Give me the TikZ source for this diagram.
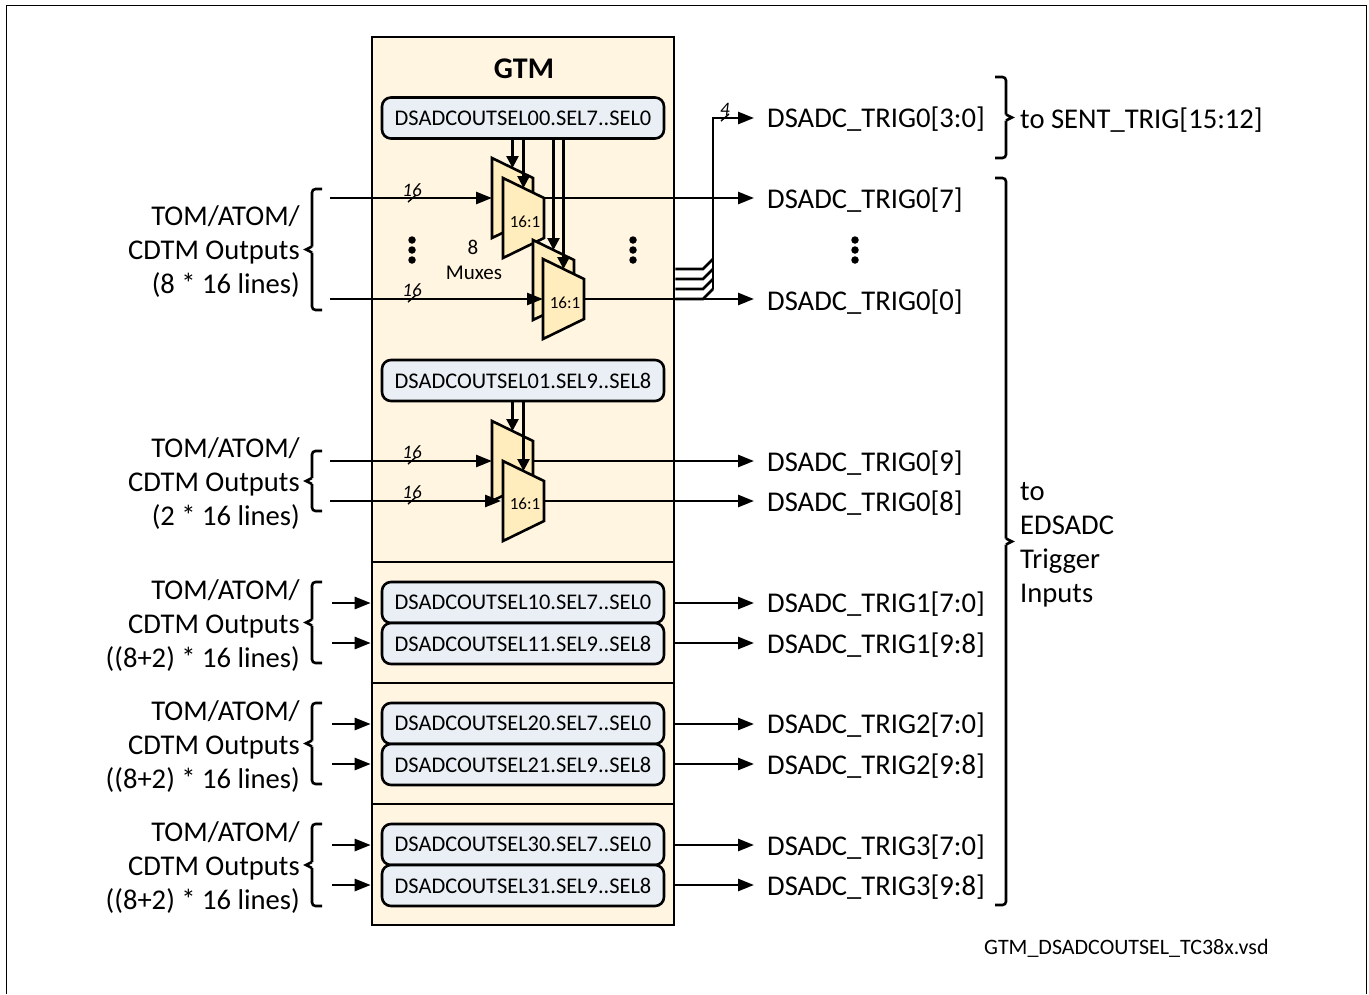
\documentclass[tikz,border=0pt]{standalone}
\usepackage{fontspec}
\setmainfont{Carlito}
\usepackage{xcolor}
\usetikzlibrary{calc,arrows.meta,positioning}
\definecolor{gtmbg}{HTML}{FFF5E1}
\definecolor{muxbg}{HTML}{FFEDBE}
\definecolor{selbg}{HTML}{E9EFF4}
\tikzset{
  ar/.style={-{Triangle[length=16pt,width=12pt]},line width=2.6pt},
  arsel/.style={-{Triangle[length=12pt,width=12pt]},line width=2.6pt},
  ln/.style={line width=2.6pt},
  selbox/.style={draw,line width=2.6pt,rounded corners=9pt,fill=selbg,minimum width=282pt,minimum height=41pt,inner sep=0pt,font=\fontsize{22.4}{26}\selectfont},
  muxbox/.style={draw,line width=2.6pt,fill=muxbg,line join=miter},
  big/.style={font=\fontsize{28.6}{34}\selectfont,inner sep=0pt},
  trig/.style={font=\fontsize{28.6}{34}\selectfont,anchor=west,inner ysep=0pt,inner xsep=0pt,text depth=0pt},
  buslbl/.style={font=\fontsize{19}{22}\itshape,inner sep=0pt},
  small/.style={font=\fontsize{17}{20}\selectfont,inner sep=0pt}
}
% mux: name, x of upper left corner, y of upper left corner
\newcommand{\muxshape}[3]{
  \draw[muxbox] (#2,#3)--(#2+41,#3+20)--(#2+41,#3+60)--(#2,#3+80)--cycle;
  \coordinate (#1-sel) at (#2+20.5,#3+10);
  \coordinate (#1-in) at (#2,#3+40);
  \coordinate (#1-out) at (#2+41,#3+40);
}
% brace: x of stem, y top, y bottom, x of open ends, x of tip
\newcommand{\bracket}[5]{
  \draw[ln,rounded corners=3.5pt] (#4,#2)--(#1,#2)--(#1,{(#2+#3)/2-3});
  \draw[ln,rounded corners=3.5pt] (#1,{(#2+#3)/2+3})--(#1,#3)--(#4,#3);
  \draw[ln] (#1,{(#2+#3)/2-3})--(#5,{(#2+#3)/2})--(#1,{(#2+#3)/2+3});
}
\begin{document}
\begin{tikzpicture}[x=1pt,y=-1pt]
\useasboundingbox (0,0) rectangle (1369,994);
\draw[line width=1pt] (6,994)--(6,5)--(1366,5)--(1366,994);
\node[draw,line width=2.6pt,fill=gtmbg,minimum width=302pt,minimum height=888pt,inner sep=0pt] (gtm) at (523,481) {};
\node[font=\fontsize{30}{34}\bfseries,inner sep=0pt] (gtmlbl) at (524,69) {GTM};
\foreach \y in {562,683,804}
  \draw[ln] (gtm.west |- 0,\y) -- (gtm.east |- 0,\y);
% select registers
\foreach \n/\y/\t in {00/118/SEL7..SEL0,01/380.5/SEL9..SEL8,10/602.5/SEL7..SEL0,11/643.5/SEL9..SEL8,20/723.5/SEL7..SEL0,21/764.5/SEL9..SEL8,30/844.5/SEL7..SEL0,31/885.5/SEL9..SEL8}
  \node[selbox] (sel\n) at (523,\y) {DSADCOUTSEL\n.\t};
% output names
\foreach \n/\y/\t in {a/117.5/0[3:0],b/198.5/0[7],c/300.5/0[0],d/461.5/0[9],e/501.5/0[8],f/602.5/1[7:0],g/643.5/1[9:8],h/723.5/2[7:0],i/764.5/2[9:8],j/845.5/3[7:0],k/885.5/3[9:8]}
  \node[trig] (trig\n) at (767,\y) {DSADC\_TRIG\t};
\foreach \n/\y in {a/118,b/198,c/299,d/461,e/501,f/603,g/643,h/724,i/764,j/845,k/885}
  \coordinate (tip\n) at (754,\y);
% first group of muxes
\coordinate (ina) at (330,198); \coordinate (inb) at (330,299);
\muxshape{muxa}{492}{158}
\draw[ar] (muxa-out) -- (tipb);
\draw[ar] (ina) -- (muxa-in);
\muxshape{muxb}{503}{178}
\muxshape{muxc}{533}{240}
\muxshape{muxd}{543}{259}
\draw[ar] (inb) -- (muxd-in);
\draw[ar] (muxd-out) -- (tipc);
\foreach \m in {muxa,muxb,muxc,muxd}
  \draw[arsel] (sel00.south -| \m-sel) -- (\m-sel);
% second group of muxes
\coordinate (inc) at (330,461); \coordinate (ind) at (330,501);
\muxshape{muxe}{492}{421}
\draw[ar] (muxe-out) -- (tipd);
\draw[ar] (inc) -- (muxe-in);
\muxshape{muxf}{503}{461}
\draw[ar] (ind) -- ($(muxf-in)+(-2,0)$);
\draw[ar] (muxf-out) -- (tipe);
\foreach \m in {muxe,muxf}
  \draw[arsel] (sel01.south -| \m-sel) -- (\m-sel);
\node[small] (muxlbla) at (525,222) {16:1};
\node[small] (muxlblb) at (565,303) {16:1};
\node[small] (muxlblc) at (525,504) {16:1};
\node[small,font=\fontsize{21}{24}\selectfont] (eight) at (473,247) {8};
\node[small,font=\fontsize{21}{24}\selectfont] (muxes) at (474,273) {Muxes};
% four lines to the top output
\foreach \y in {269,279,289,299}
  \draw[ln] (gtm.east |- 0,\y) -- (703,\y) -- (713,\y-10);
\draw[ar] (713,289) |- (tipa);
% lower groups
\foreach \n/\m/\y in {f/10/603,g/11/643,h/20/724,i/21/764,j/30/845,k/31/885}{
  \coordinate (in\n) at (332,\y);
  \draw[ar] (in\n) -- (gtm.west |- tip\n);
  \draw[ar] (gtm.east |- tip\n) -- (tip\n);
}
% bus widths
\foreach \n/\x/\y/\t in {a/412/190/16,b/412/290/16,c/412/452/16,d/412/492/16,e/725/109/4}{
  \node[buslbl] (bus\n) at (\x,\y) {\t};
  \draw[line width=1.4pt] ($(bus\n.center)+(-4,12)$) -- ++(8,-7);
}
% ellipsis
\foreach \n/\x in {a/412,b/633,c/855}
  \foreach \k/\y in {1/240,2/250,3/260}
    \node[circle,fill,inner sep=0pt,minimum size=7.5pt] (dot\n\k) at (\x,\y) {};
% inputs text
\foreach \n/\y/\t in {a/252/8 * 16 lines,b/484/2 * 16 lines,c/626/(8+2) * 16 lines,d/747/(8+2) * 16 lines,e/868/(8+2) * 16 lines}
  \node[big,align=right,anchor=east] (src\n) at (300,\y) {TOM/ATOM/\\CDTM Outputs\\(\t)};
\bracket{312}{189}{310}{322}{306}
\bracket{312}{451}{511}{322}{306}
\bracket{312}{582}{663}{322}{306}
\bracket{312}{703}{784}{322}{306}
\bracket{312}{824}{906}{322}{306}
\bracket{1006}{77}{158}{995}{1012}
\bracket{1006}{178}{905}{995}{1012}
\node[big,anchor=west] (sent) at (1020,120) {to SENT\_TRIG[15:12]};
\node[big,anchor=west,align=left] (edsadc) at (1020,545) {to\\EDSADC\\Trigger\\Inputs};
\node[font=\fontsize{22}{26}\selectfont,inner sep=0pt,anchor=west] (fname) at (984,948) {GTM\_DSADCOUTSEL\_TC38x.vsd};
\end{tikzpicture}
\end{document}
